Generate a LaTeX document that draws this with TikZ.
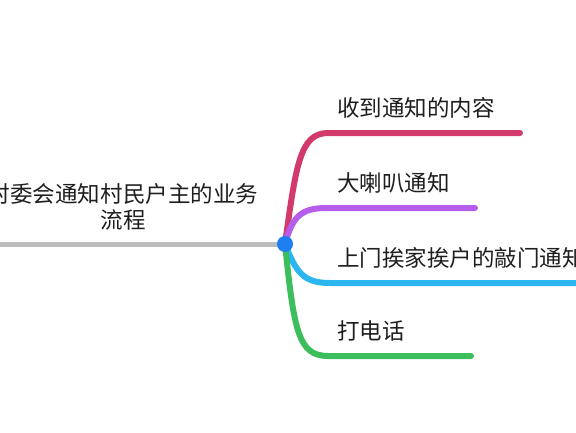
\documentclass[tikz,border=0pt]{standalone}
\usepackage{fontspec}
\setmainfont{Noto Sans CJK SC}
\newfontfamily\cjk{Noto Sans CJK SC}
\definecolor{cgray}{HTML}{BDBDBD}
\definecolor{cdot}{HTML}{1E7FF0}
\definecolor{cred}{HTML}{D33A6C}
\definecolor{cpurple}{HTML}{B75DEB}
\definecolor{cblue}{HTML}{2BB6F0}
\definecolor{cgreen}{HTML}{3DBE5C}
\definecolor{ctext}{HTML}{1E1E1E}
\tikzset{
  branch/.style={line width=6bp, line cap=round},
  lbl/.style={anchor=west, inner sep=0pt, text=ctext, font=\cjk\fontsize{22.5bp}{26bp}\selectfont},
}
\begin{document}
\begin{tikzpicture}[x=1bp,y=-1bp]
\useasboundingbox (0,0) rectangle (576,432);
\coordinate (root) at (285,244);
\coordinate (lft) at (-5,244);
\draw[cgray, line width=5bp] (lft) -- (root);
\node[inner sep=0pt, align=center, text=ctext, font=\cjk\fontsize{22.5bp}{25.5bp}\selectfont] (title) at (123,207) {村委会通知村民户主的业务\\流程};
% branch ends
\coordinate (r1) at (520,133);
\coordinate (p1) at (475,208);
\coordinate (b1) at (590,283);
\coordinate (g1) at (471,356);
\draw[branch, cred] (root) .. controls (296,165) and (300,133) .. (328,133) -- (r1);
\draw[branch, cpurple] (root) .. controls (292,218) and (300,208) .. (326,208) -- (p1);
\draw[branch, cblue] (root) .. controls (296,272) and (303,283) .. (330,283) -- (b1);
\draw[branch, cgreen] (root) .. controls (294,330) and (298,356) .. (328,356) -- (g1);
\fill[cdot] (root) circle (8);
\node[lbl] (t1) at (337,108) {收到通知的内容};
\node[lbl] (t2) at (337,183) {大喇叭通知};
\node[lbl] (t3) at (337,258) {上门挨家挨户的敲门通知};
\node[lbl] (t4) at (337,331) {打电话};
\end{tikzpicture}
\end{document}
